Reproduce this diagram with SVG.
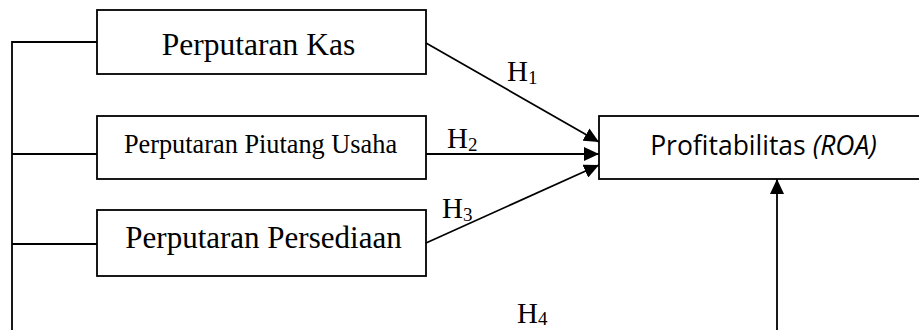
<svg xmlns="http://www.w3.org/2000/svg" width="919" height="330" viewBox="0 0 919 330">
<style>
.box{fill:#fff;stroke:#000;stroke-width:1.8}
.ln{fill:none;stroke:#000;stroke-width:1.8}
.t{font-family:"Liberation Serif","Times New Roman",serif;fill:#000}
.s{font-family:"Open Sans","Noto Sans",sans-serif;fill:#000}
</style>
<defs>
<marker id="ah" markerUnits="userSpaceOnUse" markerWidth="16" markerHeight="14" refX="15" refY="7" orient="auto">
<path d="M0,0 L15,7 L0,14 z" fill="#000"/>
</marker>
</defs>
<g id="connectors">
<path class="ln" d="M97,42 H12 V330"/>
<path class="ln" d="M97,154 H12"/>
<path class="ln" d="M97,244 H12"/>
<line class="ln" x1="426" y1="43" x2="599" y2="142" marker-end="url(#ah)"/>
<line class="ln" x1="426" y1="154" x2="599" y2="154" marker-end="url(#ah)"/>
<line class="ln" x1="426" y1="243" x2="599" y2="165" marker-end="url(#ah)"/>
<line class="ln" x1="777" y1="330" x2="777" y2="179" marker-end="url(#ah)"/>
<text class="t" x="507" y="81" font-size="29">H<tspan font-size="19" dy="3">1</tspan></text>
<text class="t" x="447" y="148" font-size="29">H<tspan font-size="19" dy="3">2</tspan></text>
<text class="t" x="442" y="218" font-size="29">H<tspan font-size="19" dy="3">3</tspan></text>
<text class="t" x="517" y="323" font-size="29">H<tspan font-size="19" dy="2">4</tspan></text>
</g>
<g id="kas">
<rect class="box" x="97" y="10" width="329" height="64"/>
<text class="t" x="258.5" y="55" font-size="31.5" text-anchor="middle">Perputaran Kas</text>
</g>
<g id="piutang">
<rect class="box" x="97" y="116" width="329" height="63"/>
<text class="t" x="260.5" y="153" font-size="26.3" text-anchor="middle">Perputaran Piutang Usaha</text>
</g>
<g id="persediaan">
<rect class="box" x="97" y="210" width="329" height="66"/>
<text class="t" x="263.5" y="248" font-size="31" text-anchor="middle">Perputaran Persediaan</text>
</g>
<g id="roa">
<rect class="box" x="599" y="116" width="330" height="63"/>
<text class="s" x="763.5" y="155" font-size="26.5" text-anchor="middle">Profitabilitas <tspan font-style="italic">(ROA)</tspan></text>
</g>
</svg>
